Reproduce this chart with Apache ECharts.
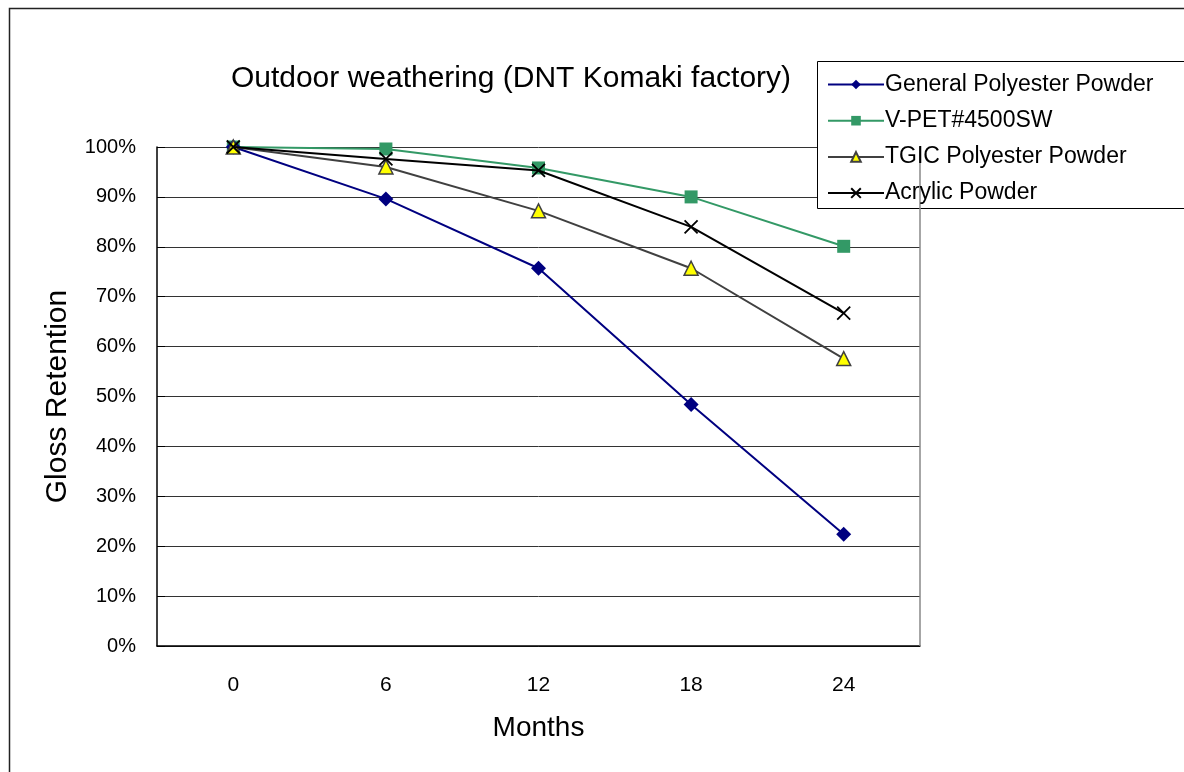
<!DOCTYPE html>
<html><head><meta charset="utf-8">
<script src="https://cdn.jsdelivr.net/npm/echarts@6/dist/echarts.min.js"></script>
<style>html,body{margin:0;padding:0;background:#fff}#c{width:1184px;height:772px}</style>
</head><body><div id="c"></div>
<script>
const months = ['0','6','12','18','24'];
const generalPolyester = [100, 89.6, 75.7, 48.4, 22.4];
const vpet = [100, 99.6, 95.8, 90.0, 80.1];
const tgic = [100, 96.0, 87.2, 75.7, 57.6];
const acrylic = [100, 97.6, 95.3, 84.0, 66.7];
const yTicks = [0,10,20,30,40,50,60,70,80,90,100];

const FONT = '"Liberation Sans", Arial, sans-serif';
const chart = echarts.init(document.getElementById('c'));
const cross = 'path://M0,0L10,10M10,0L0,10';
chart.setOption({
  animation: false,
  backgroundColor: '#fff',
  textStyle: {fontFamily: FONT, color: '#000'},
  title: {text: 'Outdoor weathering (DNT Komaki factory)', left: 506, top: 59, textAlign: 'center',
    textStyle: {fontFamily: FONT, fontSize: 30, fontWeight: 'normal', color: '#000'}},
  graphic: [
    {type: 'rect', shape: {x: 9.5, y: 8.5, width: 1200, height: 800}, style: {fill: 'none', stroke: '#222', lineWidth: 1.5}, silent: true, z: -1},
    {type: 'rect', shape: {x: 817.5, y: 61.5, width: 400, height: 147}, style: {fill: '#fff', stroke: '#000', lineWidth: 1}, silent: true, z: 5}
  ],
  legend: {
    orient: 'vertical', left: 822, top: 68, itemGap: 13.2, itemWidth: 56, itemHeight: 12, z: 10,
    textStyle: {fontFamily: FONT, fontSize: 23, color: '#000', padding: [0,0,0,-4]},
    data: ['General Polyester Powder','V-PET#4500SW','TGIC Polyester Powder','Acrylic Powder']
  },
  grid: {left: 157, right: 1184-920, top: 147, bottom: 772-646, containLabel: false},
  xAxis: {
    type: 'category', data: months, boundaryGap: true,
    name: 'Months', nameLocation: 'middle', nameGap: 68,
    nameTextStyle: {fontFamily: FONT, fontSize: 28, color: '#000'},
    axisLine: {lineStyle: {color: '#000', width: 1.5}},
    axisTick: {inside: true, length: 8, lineStyle: {color: '#000'}},
    axisLabel: {fontFamily: FONT, fontSize: 21, color: '#000', margin: 29}
  },
  yAxis: {
    type: 'value', min: 0, max: 100, interval: 10,
    name: 'Gloss Retention', nameLocation: 'middle', nameGap: 84,
    nameTextStyle: {fontFamily: FONT, fontSize: 30, color: '#000'},
    axisLine: {show: true, lineStyle: {color: '#000', width: 1.5}},
    axisTick: {show: true, inside: true, length: 8, lineStyle: {color: '#000'}},
    axisLabel: {fontFamily: FONT, fontSize: 20, color: '#000', margin: 21, formatter: v => yTicks.includes(v) ? v + '%' : ''},
    splitLine: {show: true, lineStyle: {color: '#333', width: 1}}
  },
  series: [
    {name: 'General Polyester Powder', type: 'line', data: generalPolyester, symbol: 'diamond', symbolSize: 15,
      lineStyle: {color: '#000080', width: 2}, itemStyle: {color: '#000080'}, z: 4},
    {name: 'V-PET#4500SW', type: 'line', data: vpet, symbol: 'rect', symbolSize: 13,
      lineStyle: {color: '#339966', width: 2}, itemStyle: {color: '#339966'}, z: 3},
    {name: 'TGIC Polyester Powder', type: 'line', data: tgic, symbol: 'triangle', symbolSize: 14,
      lineStyle: {color: '#404040', width: 2}, itemStyle: {color: '#ffff00', borderColor: '#404040', borderWidth: 1.5}, z: 5},
    {name: 'Acrylic Powder', type: 'line', data: acrylic, symbol: cross, symbolSize: 13,
      lineStyle: {color: '#000', width: 2}, itemStyle: {color: 'none', borderColor: '#000', borderWidth: 1.8}, z: 6},
    {type: 'line', data: [], markLine: {silent: true, symbol: 'none', label: {show: false},
      lineStyle: {color: '#888', type: 'solid', width: 1.5}, data: [[{x: 920, y: 147}, {x: 920, y: 646}]]}}
  ]
});
</script></body></html>
